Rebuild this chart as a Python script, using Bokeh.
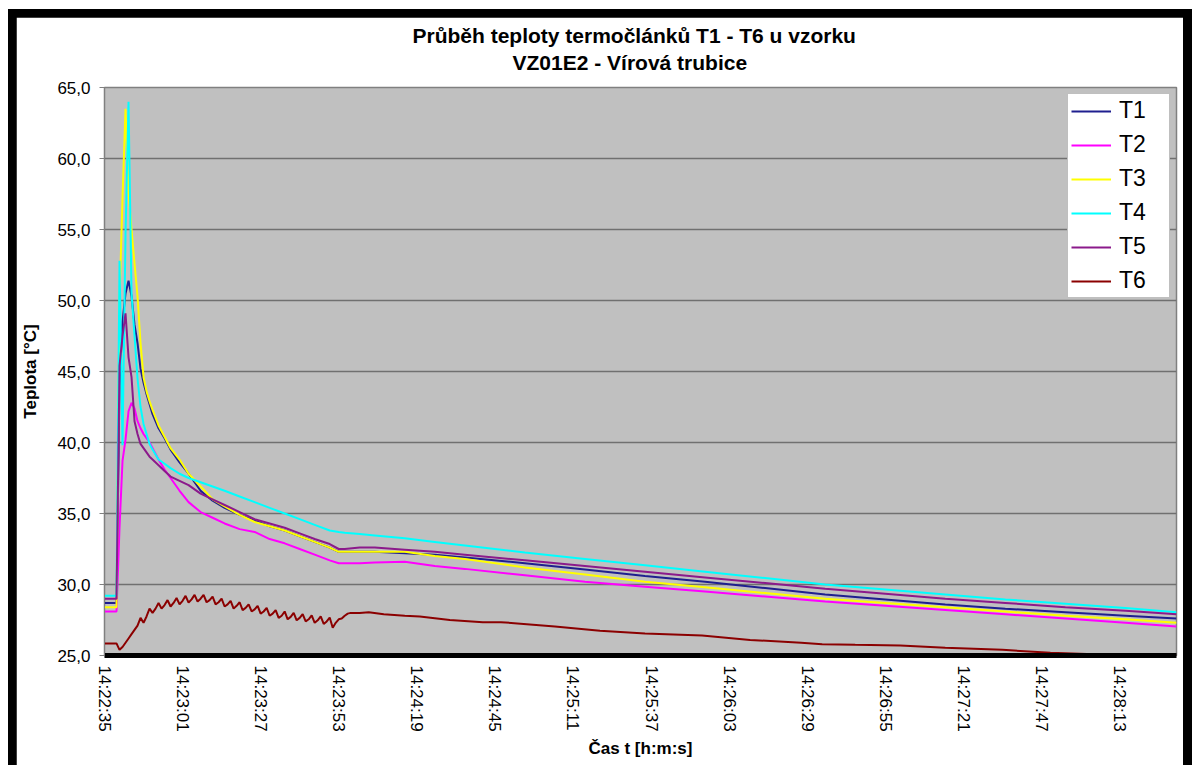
from bokeh.plotting import figure
from bokeh.models import Range1d, FixedTicker, Title, Legend, LegendItem
from bokeh.layouts import column
from bokeh.embed import file_html
from bokeh.resources import INLINE

# ---------------- data ----------------
series_names = ["T1", "T2", "T3", "T4", "T5", "T6"]
series_colors = ["#1F1F8F", "#FF00FF", "#FFFF00", "#00FFFF", "#8B1A8B", "#8B0000"]

# time in seconds from 14:22:35
t_main = [0, 1, 2, 3, 4, 5, 6, 7, 8, 9, 10, 11, 12, 13, 14, 15, 16, 18, 20, 22, 25, 28,
          32, 36, 40, 45, 50, 55, 60, 65, 70, 75, 78, 80, 85, 90, 100, 110, 120, 140,
          160, 180, 200, 220, 240, 260, 280, 300, 320, 340, 357]

T1 = [28.7, 28.7, 28.7, 28.7, 28.7, 44.0, 48.5, 50.5, 51.4, 50.3, 48.3, 47.0, 45.2, 44.2,
      43.4, 42.7, 42.0, 41.0, 40.3, 39.5, 38.6, 37.8, 36.6, 35.9, 35.4, 34.9, 34.5, 34.1,
      33.8, 33.4, 33.0, 32.6, 32.3, 32.3, 32.3, 32.3, 32.2, 32.1, 31.9, 31.5, 31.05, 30.6,
      30.2, 29.75, 29.3, 28.95, 28.6, 28.3, 28.05, 27.8, 27.6]
T2 = [28.1, 28.1, 28.1, 28.1, 28.1, 34.0, 38.7, 40.2, 42.2, 42.8, 42.4, 41.5, 41.0, 40.6,
      40.3, 40.0, 39.6, 38.8, 38.1, 37.5, 36.6, 35.8, 35.1, 34.7, 34.3, 33.9, 33.7, 33.2,
      32.9, 32.5, 32.1, 31.7, 31.5, 31.5, 31.5, 31.55, 31.6, 31.3, 31.1, 30.65, 30.2, 29.85,
      29.5, 29.15, 28.8, 28.5, 28.2, 27.9, 27.6, 27.3, 27.05]
T3 = [28.4, 28.4, 28.4, 28.4, 28.4, 50.0, 57.2, 63.5, 57.6, 55.0, 52.6, 50.3, 47.0, 44.6,
      43.6, 42.9, 42.3, 41.2, 40.4, 39.6, 38.8, 37.8, 36.9, 36.0, 35.5, 34.9, 34.4, 34.1,
      33.8, 33.4, 33.0, 32.6, 32.3, 32.3, 32.3, 32.3, 32.3, 32.0, 31.8, 31.2, 30.7, 30.2,
      29.8, 29.4, 29.0, 28.7, 28.4, 28.1, 27.8, 27.55, 27.3]
T4 = [29.2, 29.2, 29.2, 29.2, 29.2, 52.8, 39.8, 54.7, 64.0, 50.5, 47.5, 44.5, 42.5, 41.3,
      40.6, 39.9, 39.5, 38.8, 38.5, 38.2, 37.8, 37.5, 37.2, 36.9, 36.6, 36.2, 35.8, 35.4,
      35.0, 34.6, 34.2, 33.8, 33.7, 33.65, 33.55, 33.45, 33.25, 33.0, 32.75, 32.25, 31.8,
      31.35, 30.9, 30.45, 30.0, 29.65, 29.3, 28.95, 28.65, 28.35, 28.05]
T5 = [29.0, 29.0, 29.0, 29.0, 29.0, 45.4, 47.5, 49.1, 46.0, 44.6, 41.5, 40.6, 39.9, 39.6,
      39.3, 39.0, 38.8, 38.4, 38.0, 37.6, 37.3, 37.0, 36.4, 36.0, 35.6, 35.1, 34.6, 34.3,
      34.0, 33.6, 33.2, 32.85, 32.5, 32.5, 32.6, 32.6, 32.45, 32.3, 32.1, 31.7, 31.3, 30.9,
      30.5, 30.1, 29.7, 29.35, 29.0, 28.7, 28.4, 28.15, 27.9]

t6 = list(range(0, 86)) + [88, 93, 100, 105, 115, 126, 132, 150, 165, 180, 199, 215, 232,
                           239, 250, 265, 280, 299, 315, 332, 345, 357]
T6 = [25.85, 25.85, 25.85, 25.85, 25.85, 25.40, 25.60, 25.90, 26.20, 26.50,
      26.80, 27.10, 27.65, 27.30, 27.75, 28.30, 28.00, 28.30, 28.70, 28.30,
      28.55, 28.90, 28.45, 28.70, 29.05, 28.60, 28.85, 29.20, 28.72, 28.95,
      29.27, 28.80, 29.00, 29.27, 28.75, 28.90, 29.15, 28.60, 28.75, 29.00,
      28.45, 28.60, 28.85, 28.30, 28.50, 28.75, 28.20, 28.35, 28.60, 28.10,
      28.25, 28.50, 27.95, 28.10, 28.35, 27.80, 27.95, 28.20, 27.65, 27.80,
      28.10, 27.55, 27.72, 28.00, 27.48, 27.65, 27.92, 27.40, 27.55, 27.82,
      27.30, 27.48, 27.75, 27.22, 27.40, 27.67, 26.95, 27.30, 27.55, 27.60,
      27.80, 27.95, 28.00, 28.00, 28.00, 28.00,
      28.05, 27.90, 27.80, 27.75, 27.50, 27.35, 27.35, 27.05, 26.75, 26.55, 26.40,
      26.10, 25.90, 25.80, 25.75, 25.70, 25.55, 25.40, 25.20, 25.07, 25.02, 25.00]

x_tick_seconds = [0, 26, 52, 78, 104, 130, 156, 182, 208, 234, 260, 286, 312, 338]
x_tick_labels = ["14:22:35", "14:23:01", "14:23:27", "14:23:53", "14:24:19", "14:24:45",
                 "14:25:11", "14:25:37", "14:26:03", "14:26:29", "14:26:55", "14:27:21",
                 "14:27:47", "14:28:13"]
y_ticks = [25, 30, 35, 40, 45, 50, 55, 60, 65]
y_tick_labels = ["25,0", "30,0", "35,0", "40,0", "45,0", "50,0", "55,0", "60,0", "65,0"]

title_line1 = "Průběh teploty termočlánků T1 - T6 u vzorku"
title_line2 = "VZ01E2 - Vírová trubice"
x_label = "Čas t [h:m:s]"
y_label = "Teplota [°C]"

FONT = "Liberation Sans"

# ---------------- figure ----------------
p = figure(width=1167, height=748, output_backend="svg", toolbar_location=None,
           x_range=Range1d(0, 357), y_range=Range1d(25, 65),
           min_border_left=88, min_border_right=7, min_border_top=70, min_border_bottom=110)
p.background_fill_color = "#C0C0C0"
p.border_fill_color = "white"
p.outline_line_color = "#808080"
p.outline_line_width = 1.5

p.add_layout(Title(text=title_line2, align="left", offset=408, text_font=FONT,
                   text_font_size="21px", text_font_style="bold", text_color="black",
                   standoff=28), "above")
p.add_layout(Title(text=title_line1, align="left", offset=308, text_font=FONT,
                   text_font_size="21px", text_font_style="bold", text_color="black",
                   standoff=-24), "above")

p.xgrid.visible = False
p.ygrid.grid_line_color = "#707070"
p.ygrid.grid_line_width = 1.5
p.ygrid.ticker = FixedTicker(ticks=y_ticks)

p.yaxis.ticker = FixedTicker(ticks=y_ticks)
p.yaxis.major_label_overrides = {v: s for v, s in zip(y_ticks, y_tick_labels)}
p.yaxis.axis_line_color = "#808080"
p.yaxis.major_tick_line_color = "#808080"
p.yaxis.major_tick_out = 5
p.yaxis.major_tick_in = 0
p.yaxis.minor_tick_line_color = None
p.yaxis.major_label_standoff = 9
p.yaxis.major_label_text_font = FONT
p.yaxis.major_label_text_font_size = "17px"
p.yaxis.major_label_text_color = "black"
p.yaxis.axis_label = y_label
p.yaxis.axis_label_text_font = FONT
p.yaxis.axis_label_text_font_size = "17px"
p.yaxis.axis_label_text_font_style = "bold"
p.yaxis.axis_label_text_color = "black"
p.yaxis.axis_label_standoff = 14

p.xaxis.ticker = FixedTicker(ticks=x_tick_seconds)
p.xaxis.major_label_overrides = {v: s for v, s in zip(x_tick_seconds, x_tick_labels)}
p.xaxis.major_label_orientation = "vertical"
p.xaxis.axis_line_color = "black"
p.xaxis.axis_line_width = 5
p.xaxis.major_tick_out = 0
p.xaxis.major_tick_in = 0
p.xaxis.minor_tick_line_color = None
p.xaxis.major_label_standoff = 10
p.xaxis.major_label_text_font = FONT
p.xaxis.major_label_text_font_size = "17px"
p.xaxis.major_label_text_color = "black"
p.xaxis.axis_label = x_label
p.xaxis.axis_label_text_font = FONT
p.xaxis.axis_label_text_font_size = "17px"
p.xaxis.axis_label_text_font_style = "bold"
p.xaxis.axis_label_text_color = "black"
p.xaxis.axis_label_standoff = 4

series_t = [t_main, t_main, t_main, t_main, t_main, t6]
series_v = [T1, T2, T3, T4, T5, T6]
items = []
for name, color, tt, vv in zip(series_names, series_colors, series_t, series_v):
    r = p.line(tt, vv, line_color=color, line_width=2)
    items.append(LegendItem(label=name, renderers=[r]))

legend = Legend(items=items, location="top_right", margin=6, padding=3, spacing=7,
                glyph_width=40, glyph_height=24, label_height=24, label_width=47,
                label_standoff=8, label_text_font=FONT, label_text_font_size="23px",
                label_text_color="black",
                border_line_color="#808080", border_line_width=1,
                background_fill_color="white", background_fill_alpha=1.0)
p.add_layout(legend)

# black picture frame (left, top, right) inside a white page margin
framed = column(p, styles={"background-color": "black", "padding": "8px 9px 0px 8px"})
page = column(framed, styles={"background-color": "white", "padding": "9px 0px 0px 8px"})

open("out.html", "w").write(file_html(page, INLINE))
